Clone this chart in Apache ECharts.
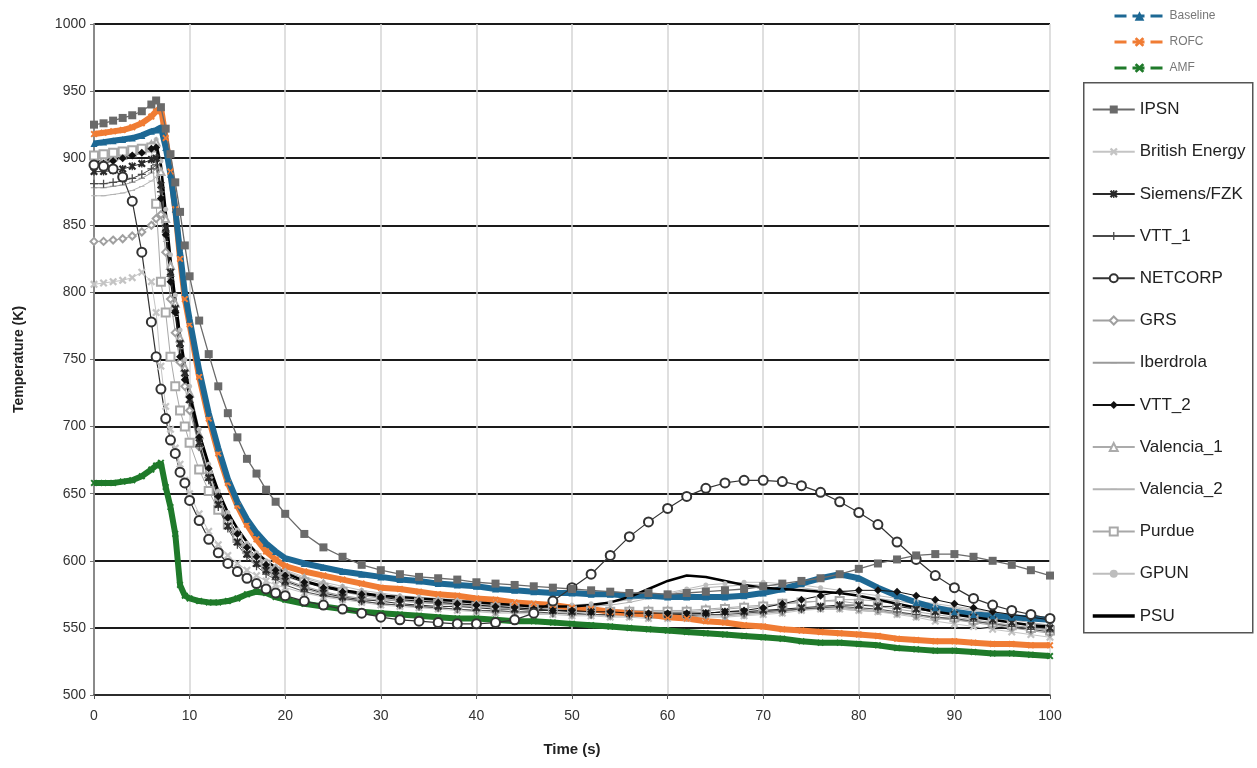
<!DOCTYPE html>
<html><head><meta charset="utf-8">
<script src="https://cdn.jsdelivr.net/npm/echarts@6/dist/echarts.min.js"></script>
<style>html,body{margin:0;padding:0;background:#fff}#c{width:1257px;height:768px}</style>
</head><body><div id="c"></div>
<script>
// time (s)
const time = [0,1,2,3,4,5,6,6.5,7,7.5,8,8.5,9,9.5,10,11,12,13,14,15,16,17,18,19,
  20,22,24,26,28,30,32,34,36,38,40,42,44,46,48,50,52,54,56,58,60,62,64,66,68,70,72,74,76,78,80,82,84,86,88,90,92,94,96,98,100];

// temperatures (K)
const IPSN = [925,926,928,930,932,935,940,943,938,922,903,882,860,835,812,779,754,730,710,692,676,665,653,644,
  635,620,610,603,597,593,590,588,587,586,584,583,582,581,580,579,578,577,576,576,575,576,577,578,579,581,583,585,587,590,594,598,601,604,605,605,603,600,597,593,589];
const britishEnergy = [806,807,808,809,811,815,808,785,745,715,698,684,672,660,650,635,622,612,604,598,593,589,585,582,
  580,576,573,571,569,567,566,565,564,563,562,561,561,560,560,559,559,558,558,557,557,557,558,558,559,560,561,563,564,564,563,562,560,558,555,553,551,549,547,545,543];
const siemensFZK = [890,890,891,892,894,896,899,900,880,848,815,788,762,740,720,688,662,642,626,614,605,598,593,589,
  585,580,576,573,571,570,568,567,566,566,565,564,564,563,563,562,562,561,561,560,560,560,561,562,562,563,564,565,566,567,567,566,566,564,562,560,558,556,554,552,550];
const VTT1 = [881,881,882,883,885,888,892,895,875,845,812,785,760,738,718,685,660,640,624,612,603,596,590,586,
  582,577,574,572,570,568,567,566,565,564,563,563,562,562,561,561,560,560,560,559,559,559,560,560,561,562,563,564,565,566,565,564,562,560,558,557,555,553,551,549,547];
const NETCORP = [895,894,892,886,868,830,778,752,728,706,690,680,666,658,645,630,616,606,598,592,587,583,579,576,
  574,570,567,564,561,558,556,555,554,553,553,554,556,561,570,580,590,604,618,629,639,648,654,658,660,660,659,656,651,644,636,627,614,601,589,580,572,567,563,560,557];
const GRS = [838,838,839,840,842,845,850,855,858,830,795,770,748,730,712,685,662,643,628,616,606,599,593,588,
  584,579,575,572,570,568,567,566,565,564,563,562,562,561,561,560,560,559,559,558,558,558,559,559,560,561,562,564,565,565,564,563,561,559,557,556,554,552,550,548,546];
const iberdrola = [878,878,879,880,882,885,889,892,872,842,810,784,760,738,719,688,663,644,629,617,607,600,594,590,
  586,581,577,574,572,571,570,569,568,567,566,566,565,565,564,563,563,562,562,561,561,561,561,562,562,563,563,564,564,564,563,562,561,560,558,556,555,553,552,550,549];
const VTT2 = [895,896,898,900,902,904,907,908,870,843,808,785,752,735,722,692,669,648,632,620,610,603,597,593,
  589,584,580,577,575,573,571,570,569,568,567,566,565,564,563,563,562,562,561,561,561,561,561,562,563,565,568,571,574,577,578,578,577,574,571,568,565,562,560,558,556];
const valencia1 = [899,900,901,902,904,906,910,912,890,855,820,792,766,744,725,694,668,648,632,620,610,603,597,594,
  592,587,583,579,576,574,572,571,569,568,567,567,566,566,565,564,564,564,563,563,563,563,564,565,566,567,568,569,570,571,571,570,568,566,564,562,560,558,556,554,552];
const valencia2 = [872,872,873,874,876,879,883,886,870,838,808,782,758,738,720,690,666,646,630,618,608,601,596,592,
  590,585,581,578,576,574,572,571,570,569,568,568,567,567,566,566,566,567,569,572,575,578,580,581,582,582,581,580,578,576,574,572,570,568,566,565,563,561,559,557,555];
const purdue = [902,903,904,905,906,907,908,866,808,785,752,730,712,700,688,668,652,638,627,617,609,602,597,592,
  588,584,580,577,574,572,570,569,568,567,566,565,565,564,564,563,563,562,562,562,562,562,563,564,565,566,568,569,570,570,568,566,564,562,560,558,556,554,552,550,548];
const GPUN = [900,901,902,903,905,907,911,914,898,862,828,798,772,750,730,698,672,652,636,623,613,606,600,596,
  593,588,584,581,578,576,574,573,572,571,570,570,569,568,568,567,568,569,571,573,576,579,582,583,584,584,583,582,580,578,576,574,572,570,568,566,564,562,560,558,556];
const PSU = [897,898,899,900,902,905,909,911,895,860,825,795,768,745,725,695,672,652,636,624,614,606,600,595,
  591,585,581,578,576,574,573,572,571,570,569,568,567,566,566,566,567,569,573,579,585,589,588,585,582,580,579,578,577,576,574,571,568,565,562,560,558,556,554,552,551];
const baseline = [911,912,913,914,915,917,920,921,923,908,888,862,830,800,780,742,710,684,661,644,631,621,613,607,
  602,598,595,592,590,588,586,585,583,582,581,579,578,577,576,576,575,575,574,574,573,573,573,573,574,576,579,583,587,590,587,580,574,569,565,562,560,559,558,557,556];
const ROFC = [918,919,920,921,923,926,931,935,938,915,890,862,825,795,776,737,706,680,658,641,627,616,607,601,
  596,592,589,586,583,580,579,577,575,574,572,571,569,568,567,565,564,562,561,560,558,557,555,554,552,551,549,548,547,546,545,544,542,541,540,540,539,538,538,537,537];
const AMF = [658,658,658,659,660,663,668,671,673,655,640,620,582,574,572,570,569,569,570,572,575,577,576,573,
  571,568,566,564,562,561,560,559,558,557,557,556,555,555,554,553,552,551,550,549,548,547,546,545,544,543,542,540,539,539,538,537,535,534,533,533,532,531,531,530,529];

const topLegend = ['Baseline','ROFC','AMF'];
const boxLegend = ['IPSN','British Energy','Siemens/FZK','VTT_1','NETCORP','GRS','Iberdrola','VTT_2','Valencia_1','Valencia_2','Purdue','GPUN','PSU'];

const X_PATH = 'path://M2,0L5,3L8,0L10,2L7,5L10,8L8,10L5,7L2,10L0,8L3,5L0,2Z';
const STAR_PATH = 'path://M2,0L5,3L8,0L10,2L7,5L10,8L8,10L5,7L2,10L0,8L3,5L0,2Z M4.2,0L5.8,0L5.8,10L4.2,10Z';
const PLUS_PATH = 'path://M4.2,0L5.8,0L5.8,4.2L10,4.2L10,5.8L5.8,5.8L5.8,10L4.2,10L4.2,5.8L0,5.8L0,4.2L4.2,4.2Z';
const DASH_PATH = 'path://M0,0L0.05,0L0.05,0.05Z M1,4.3L9,4.3L9,5.7L1,5.7Z M9.95,9.95L10,9.95L10,10Z';

function mk(name, vals, color, symbol, size, lw, extra) {
  const s = {
    name: name, type: 'line',
    data: time.map((t, i) => [t, vals[i]]),
    symbol: symbol, symbolSize: size,
    lineStyle: { color: color, width: lw },
    itemStyle: { color: color },
    emphasis: { disabled: true },
    z: 2
  };
  return Object.assign(s, extra || {});
}

const series = [
  mk('GPUN', GPUN, '#bdbdbd', 'circle', 5, 1),
  mk('Valencia_2', valencia2, '#b3b3b3', DASH_PATH, 7, 1),
  mk('Iberdrola', iberdrola, '#9a9a9a', DASH_PATH, 8, 1),
  mk('British Energy', britishEnergy, '#c4c4c4', X_PATH, 8, 1),
  mk('GRS', GRS, '#a0a0a0', 'emptyDiamond', 7, 1),
  mk('Valencia_1', valencia1, '#ababab', 'emptyTriangle', 7, 1),
  mk('Purdue', purdue, '#a8a8a8', 'emptyRect', 8, 1),
  mk('VTT_1', VTT1, '#4a4a4a', PLUS_PATH, 8, 1),
  mk('Siemens/FZK', siemensFZK, '#2a2a2a', STAR_PATH, 8, 1),
  mk('AMF', AMF, '#1f7a2a', X_PATH, 7, 6),
  mk('ROFC', ROFC, '#f07c34', X_PATH, 7, 6),
  mk('Baseline', baseline, '#1d6894', 'triangle', 7, 6),
  mk('VTT_2', VTT2, '#111111', 'diamond', 8, 1),
  mk('NETCORP', NETCORP, '#333333', 'emptyCircle', 9, 1.2),
  mk('PSU', PSU, '#000000', 'none', 0, 2.5),
  mk('IPSN', IPSN, '#6a6a6a', 'rect', 8, 1.3)
];

const boxLegendData = boxLegend.map(n => n === 'PSU'
  ? { name: n, itemStyle: { opacity: 0 }, lineStyle: { width: 3.5 } }
  : { name: n });

const chart = echarts.init(document.getElementById('c'), null, { renderer: 'canvas' });
chart.setOption({
  animation: false,
  backgroundColor: '#ffffff',
  textStyle: { fontFamily: 'Liberation Sans, Arial, sans-serif' },
  grid: { left: 94, right: 207, top: 24, bottom: 73, containLabel: false },
  xAxis: {
    type: 'value', min: 0, max: 100, interval: 10,
    name: 'Time (s)', nameLocation: 'middle', nameGap: 47,
    nameTextStyle: { fontSize: 15, fontWeight: 'bold', color: '#222' },
    axisLine: { show: true, lineStyle: { color: '#333', width: 1.5 } },
    axisTick: { show: true, length: 4, lineStyle: { color: '#555' } },
    axisLabel: { fontSize: 14, color: '#333', margin: 14 },
    splitLine: { show: true, lineStyle: { color: '#d4d4d4', width: 1.5 } }
  },
  yAxis: {
    type: 'value', min: 500, max: 1000, interval: 50,
    name: 'Temperature (K)', nameLocation: 'middle', nameGap: 68, nameRotate: 90,
    nameTextStyle: { fontSize: 14, fontWeight: 'bold', color: '#222' },
    axisLine: { show: true, lineStyle: { color: '#8a8a8a', width: 2 } },
    axisTick: { show: true, length: 4, lineStyle: { color: '#777' } },
    axisLabel: { fontSize: 14, color: '#333', margin: 8, formatter: v => String(v) },
    splitLine: { show: true, lineStyle: { color: '#1a1a1a', width: 2 } }
  },
  legend: [
    {
      data: topLegend, orient: 'vertical', left: 1108, top: 5,
      itemWidth: 50, itemHeight: 12, itemGap: 14,
      textStyle: { fontSize: 12, color: '#777' },
      lineStyle: { type: 'dashed', width: 3 }
    },
    {
      data: boxLegendData, orient: 'vertical', left: 1086, top: 96,
      itemWidth: 42, itemHeight: 10, itemGap: 25.2,
      textStyle: { fontSize: 17, color: '#222' }
    }
  ],
  graphic: [{
    type: 'rect', left: 1083, top: 82, silent: true,
    shape: { width: 169, height: 550 },
    style: { fill: 'rgba(0,0,0,0)', stroke: '#555', lineWidth: 1.5 }
  }],
  series: series
});
</script></body></html>
